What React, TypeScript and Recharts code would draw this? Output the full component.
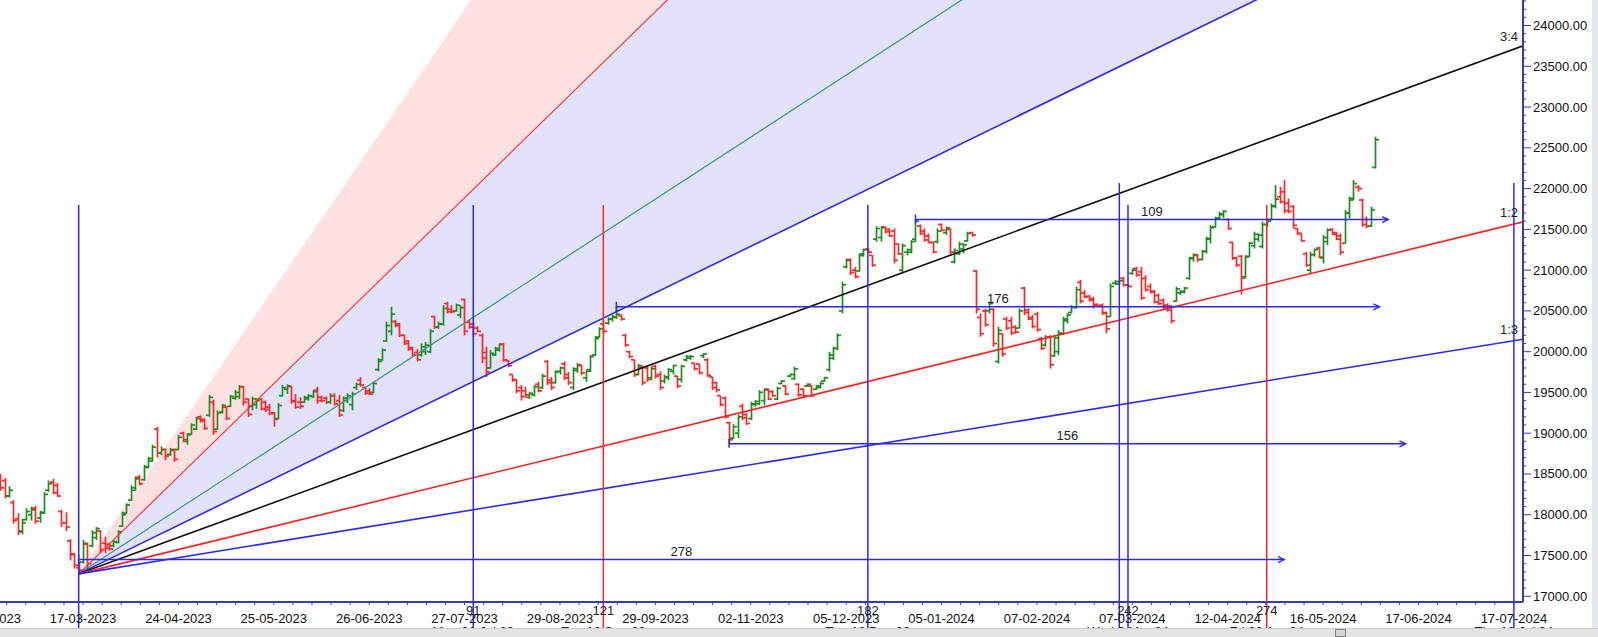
import React from 'react';
import { Area, Bar, ComposedChart, Line, ReferenceDot, ReferenceLine, XAxis, YAxis } from 'recharts';

type Ohlc = [number, number, number, number]; // open, high, low, close

// first bar sits 18 sessions before the March 2023 low (bar 0)
const firstBarIndex = -18;

// bars -18 .. 0
const barsFebMar23: Ohlc[] = [
  [18480, 18500, 18290, 18330], [18420, 18450, 18200, 18230], [18230, 18350, 18210, 18300], [18150, 18180, 17890, 17930],
  [17950, 18020, 17750, 17790], [17800, 17950, 17760, 17900], [17940, 18080, 17930, 18040], [18000, 18100, 17930, 18060],
  [18080, 18110, 17890, 17920], [17960, 18050, 17900, 18020], [18030, 18280, 18010, 18250], [18300, 18420, 18280, 18380],
  [18400, 18440, 18250, 18270], [18360, 18390, 18220, 18230], [18040, 18060, 17850, 17900], [17900, 18030, 17800, 17850],
  [17680, 17700, 17440, 17520], [17510, 17530, 17340, 17380], [17350, 17420, 17275, 17320],
];

// bars 1 .. 39
const barsMarMay23: Ohlc[] = [
  [17420, 17690, 17400, 17650], [17640, 17660, 17300, 17400], [17620, 17810, 17600, 17780], [17720, 17850, 17690, 17830],
  [17800, 17810, 17530, 17570], [17650, 17730, 17530, 17590], [17640, 17650, 17560, 17580], [17620, 17690, 17600, 17670],
  [17660, 17810, 17650, 17790], [17860, 18040, 17850, 18000], [18020, 18140, 18010, 18120], [18180, 18360, 18170, 18330],
  [18300, 18470, 18300, 18440], [18460, 18490, 18360, 18380], [18430, 18610, 18420, 18580], [18590, 18710, 18570, 18690],
  [18660, 18860, 18650, 18830], [19050, 19080, 18700, 18760], [18760, 18840, 18730, 18800], [18800, 18810, 18670, 18720],
  [18740, 18820, 18720, 18790], [18800, 18810, 18650, 18680], [18800, 18980, 18790, 18950], [19000, 19020, 18890, 18920],
  [18900, 19000, 18860, 18980], [18990, 19120, 18980, 19100], [19050, 19200, 19040, 19180], [19200, 19220, 19130, 19150],
  [19170, 19180, 19040, 19060], [19220, 19470, 19200, 19440], [19380, 19410, 18980, 19020], [19050, 19280, 19040, 19250],
  [19260, 19360, 19240, 19340], [19320, 19330, 19160, 19180], [19330, 19470, 19320, 19450], [19430, 19530, 19410, 19500],
  [19450, 19590, 19420, 19570], [19570, 19580, 19340, 19380], [19420, 19430, 19200, 19230],
];

// bars 40 .. 94
const barsMayJul23: Ohlc[] = [
  [19330, 19450, 19280, 19420], [19350, 19430, 19300, 19400], [19420, 19430, 19280, 19300], [19380, 19400, 19260, 19290],
  [19320, 19360, 19220, 19240], [19250, 19260, 19080, 19170], [19180, 19370, 19170, 19340], [19460, 19590, 19450, 19560],
  [19540, 19600, 19480, 19580], [19570, 19580, 19360, 19390], [19400, 19480, 19300, 19320], [19380, 19440, 19300, 19330],
  [19380, 19460, 19370, 19440], [19420, 19480, 19400, 19460], [19450, 19530, 19430, 19510], [19530, 19570, 19360, 19400],
  [19440, 19460, 19380, 19400], [19430, 19450, 19360, 19380], [19380, 19490, 19360, 19460], [19460, 19490, 19340, 19360],
  [19400, 19470, 19200, 19220], [19280, 19450, 19260, 19430], [19400, 19490, 19370, 19460], [19350, 19510, 19280, 19480],
  [19560, 19620, 19530, 19600], [19650, 19690, 19570, 19590], [19560, 19570, 19470, 19490], [19520, 19550, 19470, 19480],
  [19500, 19630, 19490, 19610], [19780, 19920, 19760, 19880], [19900, 20040, 19890, 20020], [20130, 20370, 20120, 20320],
  [20250, 20550, 20200, 20460], [20370, 20390, 20300, 20320], [20340, 20350, 20180, 20200], [20200, 20210, 20080, 20100],
  [20130, 20140, 20010, 20030], [20050, 20060, 19940, 19960], [19990, 20030, 19880, 19900], [19960, 20100, 19940, 20060],
  [20000, 20120, 19960, 20080], [20000, 20280, 19980, 20250], [20430, 20440, 20280, 20300], [20300, 20370, 20280, 20340],
  [20340, 20570, 20320, 20530], [20590, 20610, 20470, 20490], [20520, 20570, 20470, 20490], [20500, 20590, 20490, 20570],
  [20450, 20570, 20410, 20540], [20640, 20650, 20200, 20250], [20360, 20390, 20280, 20300], [20340, 20370, 20180, 20220],
  [20290, 20310, 20240, 20250], [20200, 20220, 19860, 19920], [19990, 20060, 19690, 19750],
];

// bars 95 .. 152
const barsAugOct23: Ohlc[] = [
  [19800, 20020, 19790, 19980], [19960, 20060, 19950, 20040], [20020, 20100, 20000, 20090], [20090, 20110, 19880, 19900],
  [19890, 19900, 19810, 19830], [19720, 19720, 19630, 19660], [19650, 19660, 19490, 19520], [19560, 19590, 19400, 19450],
  [19520, 19570, 19440, 19470], [19440, 19510, 19420, 19490], [19470, 19590, 19450, 19570], [19600, 19630, 19500, 19520],
  [19560, 19730, 19540, 19700], [19880, 19900, 19590, 19620], [19650, 19690, 19530, 19560], [19620, 19770, 19610, 19750],
  [19760, 19820, 19720, 19800], [19850, 19880, 19650, 19680], [19720, 19750, 19590, 19620], [19560, 19810, 19530, 19790],
  [19770, 19860, 19740, 19840], [19830, 19840, 19710, 19740], [19680, 19780, 19630, 19760], [19780, 19960, 19750, 19940],
  [19960, 20190, 19950, 20160], [20180, 20300, 20170, 20280], [20340, 20390, 20220, 20250], [20350, 20420, 20330, 20400],
  [20400, 20450, 20370, 20430], [20420, 20550, 20400, 20460], [20440, 20460, 20380, 20400], [20200, 20220, 20060, 20080],
  [20000, 20010, 19920, 19940], [19900, 19900, 19690, 19720], [19720, 19850, 19710, 19830], [19810, 19830, 19590, 19620],
  [19800, 19820, 19630, 19660], [19680, 19820, 19650, 19790], [19820, 19840, 19670, 19700], [19720, 19760, 19530, 19560],
  [19640, 19720, 19610, 19690], [19680, 19800, 19650, 19780], [19760, 19840, 19720, 19830], [19700, 19700, 19550, 19580],
  [19660, 19840, 19620, 19820], [19900, 19960, 19880, 19940], [19920, 19960, 19900, 19940], [19860, 19860, 19770, 19790],
  [19850, 19850, 19720, 19740], [19950, 19980, 19920, 19970], [19900, 19920, 19690, 19710], [19690, 19690, 19530, 19560],
  [19620, 19630, 19500, 19530], [19460, 19460, 19330, 19350], [19430, 19450, 19180, 19200], [19130, 19140, 18870, 18920],
  [18940, 19110, 18930, 19080], [19000, 19230, 18940, 19200],
];

// bars 153 .. 207
const barsOctJan24: Ohlc[] = [
  [19330, 19365, 19160, 19190], [19230, 19243, 19100, 19120], [19180, 19386, 19161, 19360], [19350, 19406, 19325, 19390],
  [19360, 19529, 19345, 19500], [19400, 19549, 19345, 19530], [19540, 19549, 19406, 19420], [19510, 19529, 19447, 19460],
  [19420, 19570, 19406, 19550], [19610, 19651, 19600, 19640], [19580, 19590, 19468, 19480], [19700, 19733, 19690, 19720],
  [19670, 19815, 19651, 19790], [19600, 19611, 19447, 19470], [19540, 19549, 19447, 19460], [19580, 19611, 19570, 19600],
  [19580, 19590, 19447, 19460], [19540, 19590, 19529, 19580], [19560, 19631, 19549, 19610], [19640, 19692, 19631, 19680],
  [19780, 19999, 19754, 19960], [19920, 20060, 19897, 20040], [20040, 20224, 20019, 20200], [20500, 20858, 20469, 20820],
  [21040, 21143, 21020, 21120], [21130, 21143, 20939, 20970], [21000, 21041, 20899, 20920], [20990, 21205, 20980, 21180],
  [21200, 21266, 21164, 21250], [21260, 21266, 21205, 21220], [21180, 21184, 21041, 21060], [21380, 21540, 21348, 21510],
  [21400, 21540, 21350, 21520], [21530, 21532, 21450, 21470], [21500, 21512, 21409, 21420], [21480, 21512, 21082, 21120],
  [21320, 21327, 21184, 21200], [21000, 21327, 20960, 21300], [21220, 21266, 21184, 21250], [21220, 21368, 21205, 21350],
  [21380, 21630, 21348, 21600], [21540, 21560, 21430, 21450], [21480, 21512, 21348, 21370], [21420, 21450, 21327, 21340],
  [21340, 21348, 21205, 21220], [21350, 21512, 21327, 21480], [21560, 21573, 21471, 21490], [21460, 21532, 21430, 21520],
  [21500, 21512, 21184, 21220], [21100, 21266, 21082, 21240], [21200, 21348, 21184, 21320], [21260, 21327, 21205, 21310],
  [21360, 21471, 21348, 21450], [21460, 21471, 21409, 21430], [20990, 21000, 20469, 20520],
];

// bars 208 .. 255
const barsJanMar24: Ohlc[] = [
  [20420, 20469, 20183, 20220], [20500, 20530, 20305, 20330], [20500, 20612, 20469, 20590], [20520, 20530, 20060, 20100],
  [19880, 20305, 19855, 20260], [20220, 20224, 19937, 19970], [20400, 20428, 20264, 20290], [20380, 20428, 20203, 20230],
  [20300, 20326, 20224, 20240], [20290, 20530, 20285, 20500], [20780, 20796, 20449, 20480], [20510, 20530, 20387, 20400],
  [20420, 20449, 20285, 20310], [20460, 20490, 20244, 20270], [20160, 20183, 20019, 20040], [20080, 20203, 20060, 20180],
  [20180, 20203, 19794, 19840], [19950, 20203, 19937, 20170], [20000, 20264, 19958, 20230], [20220, 20428, 20203, 20400],
  [20380, 20469, 20346, 20450], [20480, 20571, 20469, 20550], [20540, 20796, 20530, 20760], [20850, 20878, 20592, 20620],
  [20720, 20755, 20653, 20670], [20680, 20694, 20612, 20630], [20650, 20673, 20530, 20560], [20580, 20592, 20551, 20560],
  [20570, 20592, 20449, 20470], [20480, 20490, 20224, 20280], [20430, 20837, 20428, 20800], [20840, 20878, 20817, 20860],
  [20830, 20878, 20817, 20870], [20900, 20919, 20796, 20820], [20820, 20830, 20790, 20800], [20960, 21020, 20939, 21000],
  [21020, 21041, 20919, 20940], [20980, 21041, 20633, 20660], [20900, 20939, 20735, 20760], [20800, 20837, 20714, 20730],
  [20740, 20755, 20592, 20610], [20690, 20714, 20571, 20590], [20630, 20653, 20510, 20530], [20570, 20592, 20490, 20510],
  [20560, 20571, 20346, 20380], [20620, 20796, 20612, 20770], [20720, 20755, 20694, 20740], [20730, 20796, 20714, 20780],
];

// bars 256 .. 299
const barsMarMay24: Ohlc[] = [
  [20900, 21164, 20880, 21140], [21150, 21205, 21102, 21190], [21180, 21200, 21100, 21130], [21130, 21246, 21123, 21230],
  [21230, 21409, 21205, 21390], [21380, 21553, 21327, 21520], [21530, 21655, 21520, 21630], [21640, 21716, 21620, 21690],
  [21680, 21736, 21635, 21720], [21620, 21635, 21491, 21510], [21340, 21348, 21123, 21150], [21150, 21164, 21041, 21060],
  [21170, 21184, 20700, 20900], [20920, 21184, 20898, 21160], [21170, 21348, 21164, 21330], [21300, 21471, 21266, 21440],
  [21380, 21450, 21348, 21430], [21290, 21594, 21266, 21560], [21560, 21614, 21532, 21600], [21620, 21818, 21614, 21790],
  [21780, 22043, 21757, 21870], [21900, 22022, 21818, 21840], [21960, 22104, 21696, 21730], [21820, 21879, 21696, 21720],
  [21780, 21798, 21512, 21550], [21510, 21512, 21430, 21450], [21450, 21450, 21348, 21360], [21200, 21225, 21041, 21060],
  [21000, 21225, 20960, 21190], [21190, 21266, 21164, 21250], [21270, 21287, 21143, 21160], [21150, 21430, 21082, 21400],
  [21350, 21512, 21307, 21490], [21500, 21512, 21430, 21440], [21460, 21471, 21368, 21380], [21420, 21450, 21184, 21220],
  [21330, 21736, 21327, 21700], [21700, 21900, 21635, 21880], [21860, 22104, 21859, 22060], [22020, 22043, 21961, 22000],
  [21860, 21879, 21532, 21560], [21620, 21655, 21512, 21540], [21540, 21777, 21532, 21740], [22260, 22636, 22247, 22600],
];

// Gann fan drawn from the low
const fanPivotBar = 0;
const fanPivotPrice = 17275;
const fanUnit = 25.92; // points per session on the 1:1 ray
const fanNames = ['3:1', '2:1', '4:3', '1:1', '3:4', '1:2', '1:3'];
const fanRatios = [3, 2, 4 / 3, 1, 3 / 4, 1 / 2, 1 / 3];

// time-count verticals
const cycleBars = [0, 91, 121, 182, 240, 242, 274, 331];
const cycleTops = [21800, 21800, 21800, 21800, 22070, 21800, 21800, 22070];
const cycleCounts = ['', '91', '121', '182', '', '242', '274', ''];
const cycleDates = ['', 'Mon 31 Jul 23', 'Tue 12 Sep 23', 'Tue 12 Dec 23', '', 'Wed 6 Mar 24', 'Fri 26 Apr 24', 'Thu 18 Jul 24'];

// horizontal bar-count arrows
const spanStarts = [0, 124, 150, 193];
const spanPrices = [17450, 20550, 18870, 21620];
const spanLengths = [278, 176, 156, 109];

// date axis
const xLabelBars = [-21, 1, 23, 45, 67, 89, 111, 133, 155, 177, 199, 221, 243, 265, 287, 309, 331];
const xLabelTexts = [
  '15-02-2023', '17-03-2023', '24-04-2023', '25-05-2023', '26-06-2023', '27-07-2023', '29-08-2023', '29-09-2023',
  '02-11-2023', '05-12-2023', '05-01-2024', '07-02-2024', '07-03-2024', '12-04-2024', '16-05-2024', '17-06-2024', '17-07-2024',
];

// ---- layout / styling ----
const X_MIN = -18.15;
const X_MAX = 333.1;
const Y_MIN = 16930;
const Y_MAX = 24313;
const AXIS = '#3a3ab4';
const BLUE = '#2a2aff';
const RED = '#ff2424';
const UP = '#1f8c1f';
const DOWN = '#ff2626';
const FONT = '"Liberation Sans", Arial, sans-serif';

const rayStyle: Record<string, { stroke: string; width: number }> = {
  '3:1': { stroke: 'none', width: 0 },
  '2:1': { stroke: '#ff2a2a', width: 1.1 },
  '4:3': { stroke: '#3f9589', width: 1.2 },
  '1:1': { stroke: BLUE, width: 1.6 },
  '3:4': { stroke: '#111111', width: 1.6 },
  '1:2': { stroke: '#ff2020', width: 1.6 },
  '1:3': { stroke: BLUE, width: 1.6 },
};
const labelledRays = new Set(['3:4', '1:2', '1:3']);
const redCycles = new Set([121, 274]);

const allBars = [
  ...barsFebMar23, ...barsMarMay23, ...barsMayJul23, ...barsAugOct23,
  ...barsOctJan24, ...barsJanMar24, ...barsMarMay24,
];
const priceData = allBars.map(([o, h, l, c], i) => ({ x: firstBarIndex + i, o, h, l, c }));

const rayAt = (ratio: number, bar: number) => fanPivotPrice + ratio * fanUnit * (bar - fanPivotBar);
const rayData = fanRatios.map((r) => [
  { x: fanPivotBar, y: fanPivotPrice },
  { x: X_MAX, y: rayAt(r, X_MAX) },
]);
const fillData = [
  { x: fanPivotBar, pink: [fanPivotPrice, fanPivotPrice], lav: [fanPivotPrice, fanPivotPrice] },
  { x: X_MAX, pink: [rayAt(2, X_MAX), rayAt(3, X_MAX)], lav: [rayAt(1, X_MAX), rayAt(2, X_MAX)] },
];

const xStep = (xLabelBars[2] - xLabelBars[1]) / 5;
const xTicks: number[] = [];
for (let k = 0; xLabelBars[0] + k * xStep <= X_MAX; k++) xTicks.push(+(xLabelBars[0] + k * xStep).toFixed(2));
const yTicks: number[] = [];
for (let v = 17000; v <= 24300; v += 100) yTicks.push(v);

function XTick(props: any) {
  const { x, y, payload } = props;
  const idx = xLabelBars.findIndex((b) => Math.abs(b - payload.value) < 0.01);
  return (
    <g>
      <line x1={x} y1={y} x2={x} y2={y + 3} stroke={AXIS} strokeWidth={1} />
      {idx >= 0 && (
        <text x={x} y={y + 21} textAnchor="middle" fontSize={13} fill="#111" fontFamily={FONT}>
          {xLabelTexts[idx]}
        </text>
      )}
    </g>
  );
}

function YTick(props: any) {
  const { x, y, payload } = props;
  const major = payload.value % 500 === 0;
  return (
    <g>
      <line x1={x} y1={y} x2={x + (major ? 8 : 3)} y2={y} stroke={AXIS} strokeWidth={1} />
      {major && (
        <text x={x + 10} y={y + 4.5} fontSize={13} fill="#111" fontFamily={FONT}>
          {payload.value.toFixed(2)}
        </text>
      )}
    </g>
  );
}

function OhlcShape(props: any) {
  const { x, y, width, height, payload } = props;
  if (!payload || !height) return null;
  const { o, h, l, c } = payload;
  const cx = Math.round(x + width / 2) + 0.5;
  const k = height / (h - l);
  const yo = y + (h - o) * k;
  const yc = y + (h - c) * k;
  return (
    <g stroke={c >= o ? UP : DOWN} strokeWidth={1.7}>
      <line x1={cx} y1={y} x2={cx} y2={y + height} />
      <line x1={cx - 3.5} y1={yo} x2={cx} y2={yo} />
      <line x1={cx} y1={yc} x2={cx + 3.5} y2={yc} />
    </g>
  );
}

const cycleShape = (count: string, date: string) => (p: any) => {
  const { x1, y1, x2, y2, stroke } = p;
  const yb = Math.max(y1, y2);
  const yt = Math.min(y1, y2);
  return (
    <g>
      <line x1={x1} y1={yb + 26} x2={x2} y2={yt} stroke={stroke} strokeWidth={1.5} />
      {count && (
        <text x={x1} y={yb + 13} textAnchor="middle" fontSize={13} fill="#222" fontFamily={FONT}>{count}</text>
      )}
      {date && (
        <text x={x1} y={yb + 34} textAnchor="middle" fontSize={13} fill="#222" fontFamily={FONT}>{date}</text>
      )}
    </g>
  );
};

const spanShape = (label: string) => (p: any) => {
  const { x1, y1, x2, y2, stroke } = p;
  return (
    <g>
      <line x1={x1} y1={y1} x2={x2} y2={y2} stroke={stroke} strokeWidth={1.5} />
      <line x1={x1} y1={y1 - 5} x2={x1} y2={y1 + 4} stroke={stroke} strokeWidth={1.5} />
      <path d={`M${x2 - 6},${y2 - 3} L${x2},${y2} L${x2 - 6},${y2 + 3}`} fill="none" stroke={stroke} strokeWidth={1.5} />
      <text x={(x1 + x2) / 2} y={y1 - 4} textAnchor="middle" fontSize={13} fill="#222" fontFamily={FONT}>{label}</text>
    </g>
  );
};

export default function App() {
  return (
    <div
      style={{
        position: 'absolute', left: 0, top: 0, width: 1598, height: 637,
        background: '#fff', overflow: 'hidden', fontFamily: FONT,
      }}
    >
      <ComposedChart width={1592} height={628} data={priceData} margin={{ top: 0, right: 0, bottom: 0, left: 0 }}>
        <XAxis
          dataKey="x" type="number" domain={[X_MIN, X_MAX]} allowDataOverflow ticks={xTicks} interval={0}
          height={26} tickSize={0} tickMargin={0} tickLine={false}
          axisLine={{ stroke: AXIS, strokeWidth: 2 }} tick={(p: any) => <XTick {...p} />}
        />
        <YAxis
          orientation="right" type="number" domain={[Y_MIN, Y_MAX]} allowDataOverflow ticks={yTicks} interval={0}
          width={69} tickSize={0} tickMargin={0} tickLine={false}
          axisLine={{ stroke: AXIS, strokeWidth: 2 }} tick={(p: any) => <YTick {...p} />}
        />
        <Area data={fillData} dataKey="pink" type="linear" stroke="none" fill="#ffe1e1" fillOpacity={1}
          dot={false} activeDot={false} isAnimationActive={false} />
        <Area data={fillData} dataKey="lav" type="linear" stroke="none" fill="#e2e2fc" fillOpacity={1}
          dot={false} activeDot={false} isAnimationActive={false} />
        {fanNames.map((name, i) =>
          rayStyle[name].width > 0 ? (
            <Line key={name} data={rayData[i]} dataKey="y" type="linear" stroke={rayStyle[name].stroke}
              strokeWidth={rayStyle[name].width} dot={false} activeDot={false} isAnimationActive={false} />
          ) : null
        )}
        <Bar dataKey={(d: any) => [d.l, d.h]} barSize={4} shape={(p: any) => <OhlcShape {...p} />}
          isAnimationActive={false} />
        {cycleBars.map((b, i) => (
          <ReferenceLine
            key={`c${b}`}
            segment={[{ x: b, y: Y_MIN }, { x: b, y: cycleTops[i] }]}
            stroke={redCycles.has(b) ? RED : BLUE}
            ifOverflow="visible"
            shape={cycleShape(cycleCounts[i], cycleDates[i])}
          />
        ))}
        {spanStarts.map((s, i) => (
          <ReferenceLine
            key={`s${s}`}
            segment={[{ x: s, y: spanPrices[i] }, { x: s + spanLengths[i], y: spanPrices[i] }]}
            stroke={BLUE}
            ifOverflow="visible"
            shape={spanShape(String(spanLengths[i]))}
          />
        ))}
        {fanNames.map((name, i) =>
          labelledRays.has(name) ? (
            <ReferenceDot
              key={`l${name}`}
              x={X_MAX}
              y={rayAt(fanRatios[i], X_MAX)}
              r={0}
              ifOverflow="visible"
              shape={(p: any) => (
                <text x={p.cx - 5} y={p.cy - 5} textAnchor="end" fontSize={13} fill="#222" fontFamily={FONT}>
                  {name}
                </text>
              )}
            />
          ) : null
        )}
      </ComposedChart>
      <div style={{ position: 'absolute', left: 1592, top: 0, width: 6, height: 628, background: '#e3e8ef' }} />
      <div
        style={{
          position: 'absolute', left: 0, top: 628, width: 1598, height: 9, background: '#e4e4e4',
          borderTop: '1px solid #cdcdcd', boxSizing: 'border-box',
        }}
      />
      <div
        style={{
          position: 'absolute', left: 1335, top: 629, width: 11, height: 8, background: '#d6d6d6',
          border: '1px solid #808080', boxSizing: 'border-box',
        }}
      />
    </div>
  );
}
